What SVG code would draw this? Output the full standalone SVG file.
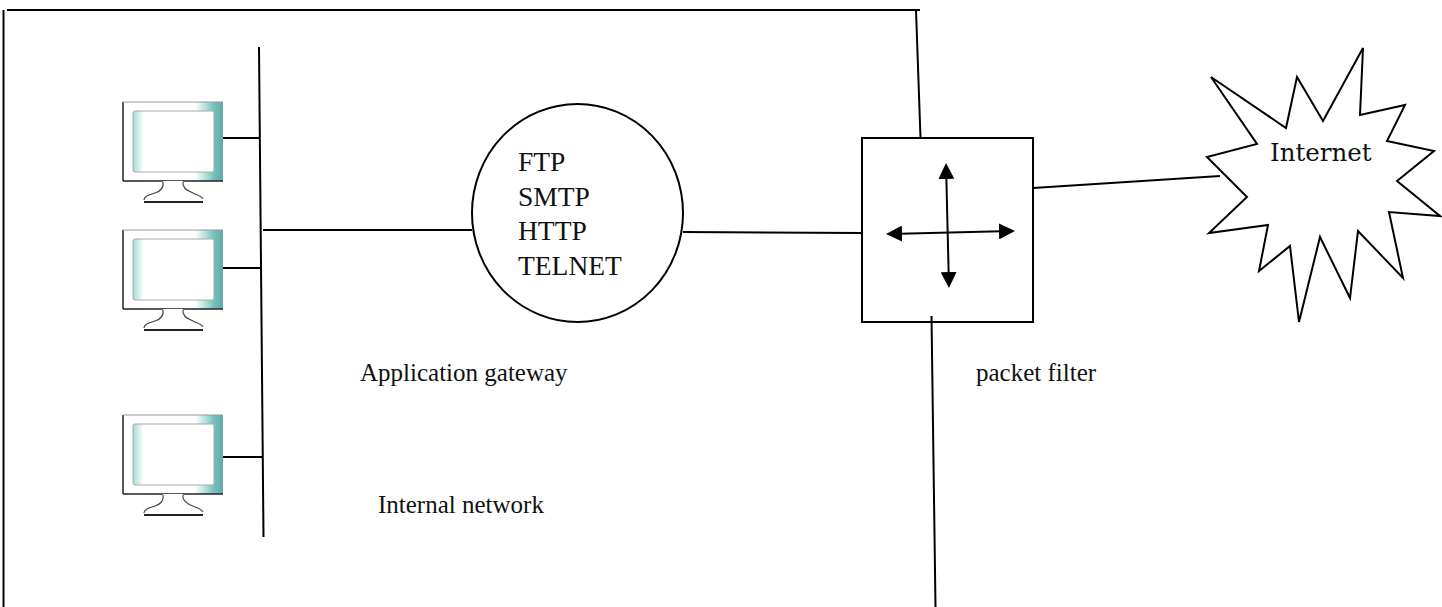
<svg xmlns="http://www.w3.org/2000/svg" width="1442" height="607" viewBox="0 0 1442 607">
<style>
.l{fill:none;stroke:#000;stroke-width:2}
.s{font-family:"Liberation Serif",serif;font-size:25px;fill:#111}
.g{font-family:"Liberation Serif",serif;font-size:27.5px;fill:#111}
.c{font-family:"DejaVu Serif","Liberation Serif",serif;font-size:24.5px;fill:#111}
</style>
<defs>
<marker id="a" markerWidth="16" markerHeight="16" refX="12" refY="8" orient="auto-start-reverse" markerUnits="userSpaceOnUse"><path d="M0 0L16 8L0 16Z" fill="#000"/></marker>
<linearGradient id="m" x1="0" x2="1" y1="0" y2="0"><stop offset="0" stop-color="#fff"/><stop offset=".72" stop-color="#fff"/><stop offset=".84" stop-color="#a8dcd8"/><stop offset=".9" stop-color="#7cc2be"/><stop offset="1" stop-color="#5fa9a6"/></linearGradient>
<linearGradient id="sc" x1="0" x2="1" y1="0" y2="0"><stop offset="0" stop-color="#a5dcd6"/><stop offset=".13" stop-color="#fff"/></linearGradient>
<g id="pc">
<rect x="0" y="0" width="100" height="79" fill="url(#m)"/>
<path d="M0 79V0" fill="none" stroke="#222" stroke-width="1.5"/>
<path d="M0 0H100" fill="none" stroke="#999" stroke-width="1"/>
<path d="M0 79H100" stroke="#222" stroke-width="1.5" fill="none"/>
<rect x="10" y="9" width="81" height="61" rx="2" fill="url(#sc)" stroke="#aaa" stroke-width="1"/>
<path d="M40 79C41 86 38 89 32 91C26 93 21 94 21 98L22 100H80L80 97C79 94 74 93 70 91C62 88 59 85 60 79Z" fill="#fff" stroke="none"/>
<path d="M40 80C41 86 38 89 32 91C26 93 21 94 21 98M80 97C79 94 74 93 70 91C62 88 59 85 60 80" fill="none" stroke="#444" stroke-width="1.2"/>
<path d="M21 100H80" fill="none" stroke="#222" stroke-width="2"/>
</g>
</defs>
<g id="connectors">
<path class="l" d="M7 10H920M3.5 10V607M916 10L920.5 138M931.5 316L935.5 607"/>
<path class="l" d="M259 47L263.5 537"/>
<path class="l" d="M217 138H260M217 268H261M217 457H263"/>
<path class="l" d="M263 230H472M683 232L862 233"/>
<path class="l" d="M1033 188L1220 176"/>
</g>
<g id="pc1"><use href="#pc" x="123" y="102"/></g>
<g id="pc2"><use href="#pc" x="123" y="230"/></g>
<g id="pc3"><use href="#pc" x="123" y="415"/></g>
<g id="gateway"><ellipse class="l" cx="577.5" cy="213" rx="105.5" ry="109"/>
<text class="g" x="518" y="171">FTP</text><text class="g" x="518" y="206">SMTP</text><text class="g" x="518" y="240">HTTP</text><text class="g" x="518" y="275">TELNET</text></g>
<g id="filter"><rect class="l" x="862" y="138" width="171" height="184"/>
<path class="l" d="M946.1 167L948.9 284" marker-start="url(#a)" marker-end="url(#a)"/>
<path class="l" d="M890 233.9L1011 231.1" marker-start="url(#a)" marker-end="url(#a)"/></g>
<g id="internet"><path class="l" d="M1211 77L1286 128L1297 77L1323 121L1363 48L1360 115L1405 105L1387 141L1434 151L1397 181L1440 216L1389 212L1403 278L1358 231L1350 298L1320 237L1299 322L1290 246L1259 271L1268 225L1209 233L1247 197L1207 157L1257 144Z"/>
<text class="c" x="1270" y="161">Internet</text></g>
<text class="s" x="360" y="381">Application gateway</text>
<text class="s" x="976" y="381">packet filter</text>
<text class="s" x="378" y="513">Internal network</text>
</svg>
